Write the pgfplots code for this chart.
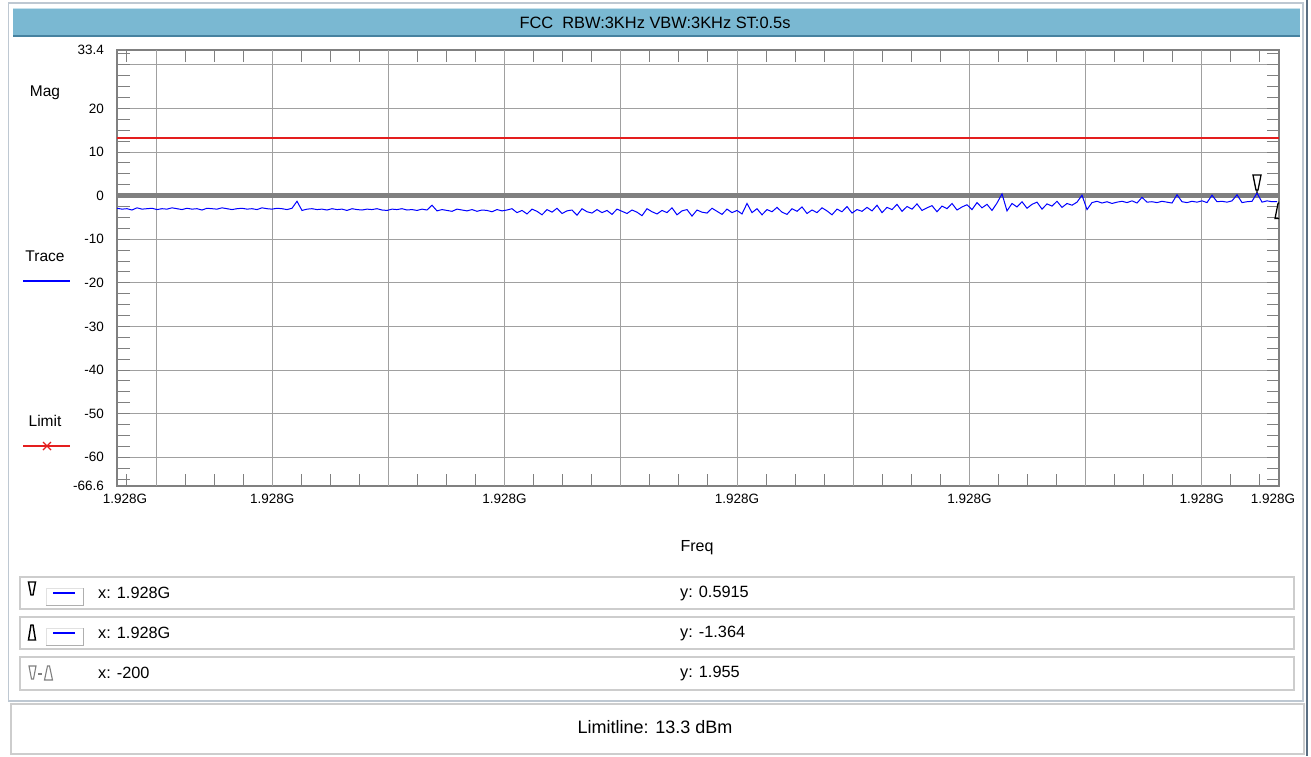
\documentclass[border=0pt]{standalone}
\usepackage{fontspec}
\setmainfont{Liberation Sans}
\usepackage{pgfplots}
\usepackage{pgfplotstable}
\pgfplotsset{compat=1.18}

\definecolor{barblue}{RGB}{122,184,210}
\definecolor{bardark}{RGB}{70,130,160}
\definecolor{barlight}{RGB}{200,225,235}
\definecolor{winedge}{RGB}{90,110,130}
\definecolor{framegray}{RGB}{128,128,128}
\definecolor{gridgray}{RGB}{160,160,160}
\definecolor{panelgray}{RGB}{205,205,205}
\definecolor{boxlight}{RGB}{225,225,225}
\definecolor{boxdark}{RGB}{175,175,175}
\definecolor{edgegray}{RGB}{190,200,210}
\definecolor{tracebl}{RGB}{0,0,255}
\definecolor{limred}{RGB}{228,30,30}

\newcommand\fs[1]{\fontsize{#1}{#1}\selectfont}

% marker symbols: tip sits on the trace point
\pgfdeclareplotmark{mdown}{%
  \pgfpathmoveto{\pgfqpoint{0pt}{0pt}}\pgfpathlineto{\pgfqpoint{0pt}{3pt}}%
  \pgfpathmoveto{\pgfqpoint{-1pt}{3pt}}\pgfpathlineto{\pgfqpoint{-4pt}{18pt}}%
  \pgfpathlineto{\pgfqpoint{4pt}{18pt}}\pgfpathlineto{\pgfqpoint{1pt}{3pt}}%
  \pgfpathclose\pgfusepathqstroke}
\pgfdeclareplotmark{mup}{%
  \pgfpathmoveto{\pgfqpoint{0pt}{0pt}}\pgfpathlineto{\pgfqpoint{0pt}{-2pt}}%
  \pgfpathmoveto{\pgfqpoint{-1pt}{-2pt}}\pgfpathlineto{\pgfqpoint{-4pt}{-17pt}}%
  \pgfpathlineto{\pgfqpoint{4pt}{-17pt}}\pgfpathlineto{\pgfqpoint{1pt}{-2pt}}%
  \pgfpathclose\pgfusepathqstroke}

% trace, one value every 5 units of x (0 .. 1160)
\pgfplotstableread[row sep=\\]{
y\\
-2.9\\ -3.1\\ -3.0\\ -3.3\\ -2.8\\ -3.1\\ -3.0\\ -2.9\\ -3.2\\ -3.0\\
-3.1\\ -2.8\\ -3.0\\ -3.2\\ -2.9\\ -3.1\\ -3.0\\ -3.3\\ -2.9\\ -3.0\\
-3.1\\ -2.8\\ -3.0\\ -3.2\\ -3.0\\ -2.9\\ -3.1\\ -3.0\\ -3.2\\ -2.8\\
-3.0\\ -3.1\\ -2.9\\ -3.0\\ -3.2\\ -2.9\\ -1.3\\
-3.4\\ -3.1\\ -3.0\\ -3.2\\ -3.1\\ -3.3\\ -3.0\\ -3.2\\ -3.1\\ -3.4\\
-3.0\\ -3.2\\ -3.3\\ -3.1\\ -3.2\\ -3.0\\ -3.3\\ -3.4\\ -3.1\\ -3.2\\
-3.0\\ -3.3\\ -3.2\\ -3.4\\ -3.1\\ -3.3\\ -2.2\\
-3.5\\ -3.2\\ -3.4\\ -3.6\\ -3.1\\ -3.3\\ -3.5\\ -3.2\\ -3.6\\ -3.3\\ -3.4\\ -3.7\\ -3.2\\ -3.5\\ -3.3\\
-3.0\\ -3.9\\ -3.4\\ -4.2\\ -3.1\\ -3.6\\ -4.4\\ -3.2\\ -3.8\\ -2.9\\ -4.1\\ -3.5\\
-3.3\\ -4.5\\ -3.0\\ -3.7\\ -4.0\\ -3.2\\ -3.9\\ -3.4\\ -4.3\\ -3.1\\ -3.6\\
-4.1\\ -3.3\\ -3.8\\ -4.6\\ -3.0\\ -3.7\\ -4.2\\ -3.4\\ -3.9\\ -2.8\\ -4.4\\ -3.5\\
-3.2\\ -4.7\\ -3.3\\ -3.8\\ -4.0\\ -2.9\\ -3.6\\ -4.3\\ -3.1\\ -3.9\\ -3.4\\
-4.2\\ -1.8\\ -3.9\\ -3.0\\ -4.4\\ -3.2\\ -3.7\\ -2.7\\
-3.8\\ -4.3\\ -3.0\\ -3.6\\ -2.6\\ -4.1\\ -3.3\\ -3.9\\ -2.8\\ -3.5\\ -4.4\\ -3.1\\ -3.7\\ -2.5\\ -4.0\\ -3.2\\ -3.6\\ -2.7\\
-3.5\\ -2.2\\ -3.9\\ -2.7\\ -3.2\\ -2.0\\ -3.6\\ -2.5\\ -3.1\\ -1.9\\
-3.4\\ -2.8\\ -2.3\\ -3.7\\ -2.4\\ -3.0\\ -1.8\\ -3.3\\ -2.6\\ -2.1\\
-3.2\\ -1.6\\ -2.8\\ -2.0\\ -3.4\\ -1.7\\ 0.4\\ -3.5\\
-1.8\\ -2.6\\ -1.4\\ -2.9\\ -2.0\\ -1.5\\ -3.1\\ -1.9\\ -2.4\\ -1.3\\ -2.7\\ -1.8\\ -2.2\\ -1.5\\
0.1\\ -3.2\\
-1.6\\ -1.3\\ -1.7\\ -1.4\\ -1.8\\ -1.5\\ -1.3\\ -1.6\\ -1.2\\ -1.7\\
-0.4\\ -1.5\\ -1.4\\ -1.6\\ -1.3\\ -1.5\\ -1.7\\ 0.2\\ -1.4\\ -1.6\\
-1.3\\ -1.5\\ -1.2\\ -1.6\\ 0.1\\ -1.4\\ -1.3\\ -1.5\\ -1.2\\ 0.2\\
-1.6\\ -1.4\\ -1.3\\ 0.5915\\ -1.5\\ -1.2\\ -1.4\\ -1.364\\
}\trace

\begin{document}
\begin{tikzpicture}[x=1pt,y=1pt]
\path[use as bounding box] (0,0) rectangle (1311,756);
\fill[white] (0,0) rectangle (1311,756);

% window frame and title bar
\draw[edgegray, line width=1.5pt] (8.5,753) -- (1303,753) -- (1303,55) -- (8.5,55) -- cycle;
\draw[winedge, line width=2.5pt] (1307,756) -- (1307,0);
\fill[barblue] (13,747) rectangle (1300,720);
\draw[bardark, line width=2pt] (13,720) -- (1300,720);
\draw[barlight, line width=1pt] (13,747) -- (1300,747);
\node[font=\fs{16.4}] at (655,733) {FCC\ \ RBW:3KHz VBW:3KHz ST:0.5s};

% left legend
\node[font=\fs{15.5}] at (45,663) {Mag};
\node[font=\fs{15.5}] at (45,500) {Trace};
\draw[tracebl, line width=1.2pt] (23,475) -- (70,475);
\node[font=\fs{15.5}] at (45,335) {Limit};
\draw[limred, line width=1.2pt] (23,310) -- (70,310);
\draw[limred, line width=1.1pt] (43,314) -- (51,306) (43,306) -- (51,314);

\node[font=\fs{16}] at (697,208) {Freq};

\begin{axis}[
  at={(117pt,270pt)}, anchor=south west,
  scale only axis, width=1162pt, height=436pt,
  xmin=0, xmax=1162, ymin=-66.6, ymax=33.4,
  axis background/.style={fill=white},
  axis line style={framegray, line width=1.5pt},
  tick align=inside,
  major tick length=0pt, minor tick length=12.5pt,
  tick style={framegray, line width=1pt},
  xtick={8,155.2,387.6,620,852.4,1084.8,1156},
  xticklabels={1.928G,1.928G,1.928G,1.928G,1.928G,1.928G,1.928G},
  minor xtick={9.95,39,...,1143},
  extra x ticks={39,155.2,271.4,387.6,503.8,620,736.2,852.4,968.6,1084.8},
  extra x tick labels={},
  extra x tick style={grid=major},
  ytick={-60,-50,...,30},
  yticklabels={-60,-50,-40,-30,-20,-10,0,10,20,{}},
  minor ytick={-65,-62.5,...,32.5},
  extra y ticks={-66.6,33.4},
  extra y tick labels={-66.6,33.4},
  extra y tick style={grid=none},
  ymajorgrids=true,
  grid style={gridgray, line width=1pt},
  ticklabel style={font=\fs{13.5}},
  xticklabel style={yshift=-5pt},
  yticklabel style={xshift=-9.5pt},
  clip marker paths=true,
]
\addplot[draw=framegray, line width=5pt] coordinates {(0,0) (1162,0)};
\addplot[draw=limred, line width=2pt] coordinates {(0,13.3) (1162,13.3)};
\addplot[draw=tracebl, line width=1pt] table[x expr=5*\coordindex, y=y] {\trace};
\addplot[draw=black, line width=1.3pt, only marks, mark=mdown] coordinates {(1140,0.5915)};
\addplot[draw=black, line width=1.3pt, only marks, mark=mup] coordinates {(1162,-1.364)};
\end{axis}

% marker readout rows
\foreach \yb/\yt in {147/179, 107/139, 66/99}
  \draw[panelgray, line width=1.5pt, fill=white] (20,\yb) rectangle (1294,\yt);
\foreach \yb in {151,111}{
  \draw[boxlight, line width=1pt] (46,\yb) -- (46,\yb+17) -- (83,\yb+17);
  \draw[boxdark, line width=1pt] (46,\yb) -- (83,\yb) -- (83,\yb+17);
  \draw[tracebl, line width=1.3pt] (53,\yb+12) -- (75,\yb+12);
}
% marker symbols
\draw[black, line width=1.4pt] (28.5,174) -- (35.5,174) -- (33,161) -- (31,161) -- cycle;
\draw[black, line width=1.4pt] (31,131) -- (33,131) -- (35.5,116) -- (28.5,116) -- cycle;
\draw[gray, line width=1.1pt] (29,90) -- (36,90) -- (33.5,77) -- (31.5,77) -- cycle;
\draw[gray, line width=1.1pt] (38,82) -- (42,82);
\draw[gray, line width=1.1pt] (47.5,90) -- (49.5,90) -- (52.5,76) -- (44.5,76) -- cycle;

\node[font=\fs{16.3}, anchor=west, inner sep=0pt] at (98,163) {x: 1.928G};
\node[font=\fs{16.3}, anchor=west, inner sep=0pt] at (680,163) {y: 0.5915};
\node[font=\fs{16.3}, anchor=west, inner sep=0pt] at (98,123) {x: 1.928G};
\node[font=\fs{16.3}, anchor=west, inner sep=0pt] at (680,123) {y: -1.364};
\node[font=\fs{16.3}, anchor=west, inner sep=0pt] at (98,83) {x: -200};
\node[font=\fs{16.3}, anchor=west, inner sep=0pt] at (680,83) {y: 1.955};

% limit line panel
\draw[panelgray, line width=1.5pt, fill=white] (11,2) rectangle (1304,52);
\node[font=\fs{18}] at (655,29) {Limitline: 13.3 dBm};
\end{tikzpicture}
\end{document}
